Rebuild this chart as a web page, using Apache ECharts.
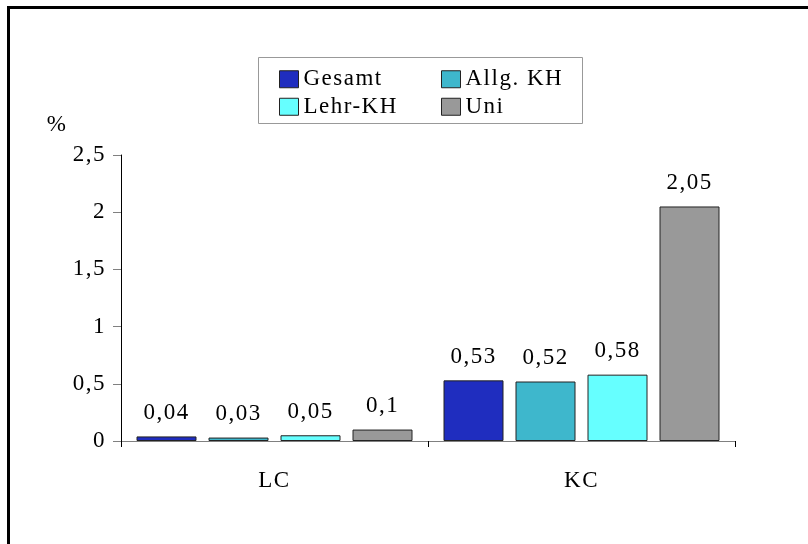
<!DOCTYPE html>
<html>
<head>
<meta charset="utf-8">
<script src="https://cdn.jsdelivr.net/npm/echarts@6/dist/echarts.min.js"></script>
<style>
  html, body { margin: 0; padding: 0; background: #fff; }
  #chart { width: 808px; height: 544px; }
</style>
</head>
<body>
<div id="chart"></div>
<script>
// Categories along the x axis
const categories = ['LC', 'KC'];

// Series names and their values (percent)
const seriesNames = ['Gesamt', 'Allg. KH', 'Lehr-KH', 'Uni'];
const gesamt = [0.04, 0.53];
const allgKH = [0.03, 0.52];
const lehrKH = [0.05, 0.58];
const uni = [0.1, 2.05];

// Y axis ticks
const yTicks = [0, 0.5, 1, 1.5, 2, 2.5];

const seriesValues = [gesamt, allgKH, lehrKH, uni];
const colors = ['#1f2dbf', '#3eb7cc', '#66ffff', '#999999'];

// Slightly spaced-out lettering for all canvas text
(function () {
  const proto = CanvasRenderingContext2D.prototype;
  ['fillText', 'strokeText', 'measureText'].forEach(fn => {
    const orig = proto[fn];
    proto[fn] = function () {
      this.letterSpacing = '1.5px';
      return orig.apply(this, arguments);
    };
  });
})();

const FONT = 'Liberation Serif';
const FS = 23;
const fmt = v => String(v).replace('.', ',');

const chart = echarts.init(document.getElementById('chart'));

const legendCommon = {
  orient: 'vertical',
  itemWidth: 19,
  itemHeight: 17,
  itemGap: 3,
  itemTextGap: 6,
  icon: 'rect',
  selectedMode: false,
  padding: 0,
  textStyle: { fontFamily: FONT, fontSize: FS, color: '#000' },
  itemStyle: { borderColor: '#222', borderWidth: 1 }
};

chart.setOption({
  animation: false,
  color: colors,
  grid: { left: 121, right: 73, top: 155, bottom: 103 },
  legend: [
    Object.assign({}, legendCommon, { left: 279, top: 67, data: [seriesNames[0], seriesNames[2]] }),
    Object.assign({}, legendCommon, { left: 441, top: 67, data: [seriesNames[1], seriesNames[3]] })
  ],
  xAxis: {
    type: 'category',
    data: categories,
    axisLine: { lineStyle: { color: '#808080', width: 1 } },
    axisTick: { show: true, length: 6, lineStyle: { color: '#000' } },
    axisLabel: { fontFamily: FONT, fontSize: FS, color: '#000', margin: 28 }
  },
  yAxis: {
    type: 'value',
    min: yTicks[0],
    max: yTicks[yTicks.length - 1],
    interval: yTicks[1] - yTicks[0],
    splitLine: { show: false },
    axisLine: { show: true, lineStyle: { color: '#000', width: 1 } },
    axisTick: { show: true, length: 8, lineStyle: { color: '#808080' } },
    axisLabel: { fontFamily: FONT, fontSize: FS, color: '#000', margin: 15, formatter: fmt }
  },
  series: seriesNames.map((name, i) => ({
    name: name,
    type: 'bar',
    data: seriesValues[i],
    barWidth: 60,
    barGap: '20%',
    itemStyle: { color: colors[i], borderColor: '#222', borderWidth: 1 },
    label: {
      show: true,
      position: 'top',
      distance: 11,
      fontFamily: FONT,
      fontSize: FS,
      color: '#000',
      formatter: p => fmt(p.value)
    }
  })),
  graphic: [
    {
      type: 'rect',
      shape: { x: 8.5, y: 7.5, width: 900, height: 700 },
      style: { fill: 'none', stroke: '#000', lineWidth: 3 },
      silent: true
    },
    {
      type: 'rect',
      shape: { x: 258.5, y: 57.5, width: 324, height: 66 },
      style: { fill: 'none', stroke: '#999', lineWidth: 1 },
      silent: true,
      z: -1
    },
    {
      type: 'text',
      x: 57,
      y: 125,
      style: { text: '%', font: FS + 'px ' + FONT, fill: '#000', textAlign: 'center', textVerticalAlign: 'middle' },
      silent: true
    }
  ]
});
</script>
</body>
</html>
